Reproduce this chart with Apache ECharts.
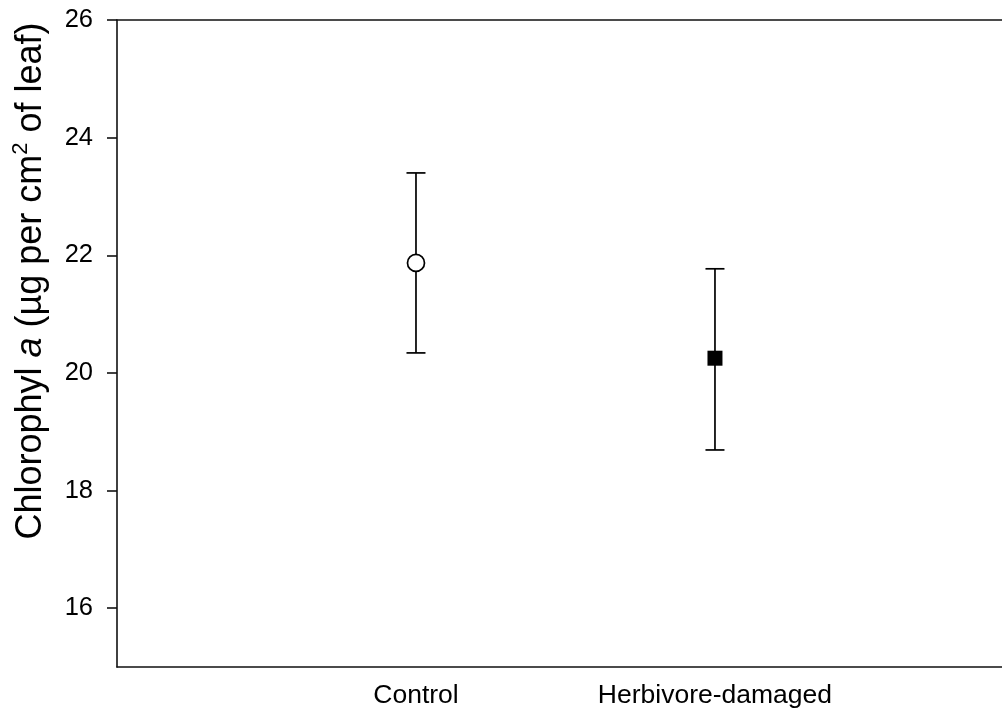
<!DOCTYPE html>
<html>
<head>
<meta charset="utf-8">
<script src="https://cdn.jsdelivr.net/npm/echarts@6/dist/echarts.min.js"></script>
<style>html,body{margin:0;padding:0;background:#fff;}#c{width:1002px;height:714px;}</style>
</head>
<body>
<div id="c"></div>
<script>
const categories = ['Control', 'Herbivore-damaged'];
const xPos = [1, 2];
const means = [21.87, 20.25];
const upper = [23.40, 21.77];
const lower = [20.34, 18.69];
const yTicks = [16, 18, 20, 22, 24, 26];

const FONT = 'Liberation Sans, Arial, sans-serif';
const chart = echarts.init(document.getElementById('c'));
const axisLineStyle = { color: '#111', width: 1.6 };

chart.setOption({
  animation: false,
  backgroundColor: '#fff',
  grid: { left: 117, right: 0, top: 20, bottom: 47 },
  xAxis: [{
    type: 'value', min: 0, max: 2.96, position: 'bottom',
    axisLine: { show: true, onZero: false, lineStyle: axisLineStyle },
    axisTick: { show: false },
    splitLine: { show: false },
    axisLabel: {
      customValues: xPos,
      formatter: v => { const i = xPos.indexOf(v); return i >= 0 ? categories[i] : ''; },
      color: '#000', fontSize: 26.5, fontFamily: FONT, margin: 15
    }
  }, {
    type: 'value', min: 0, max: 2.96, position: 'top',
    axisLine: { show: true, onZero: false, lineStyle: axisLineStyle },
    axisTick: { show: false }, axisLabel: { show: false }, splitLine: { show: false }
  }],
  yAxis: {
    type: 'value', min: 15, max: 26,
    axisLine: { show: true, onZero: false, lineStyle: axisLineStyle },
    axisTick: { show: true, customValues: yTicks, length: 10, lineStyle: axisLineStyle },
    axisLabel: { customValues: yTicks, color: '#000', fontSize: 25.5, fontFamily: FONT, margin: 24 },
    splitLine: { show: false }
  },
  graphic: [{
    type: 'text', x: 31, y: 281, rotation: Math.PI / 2,
    style: {
      text: '{n|Chlorophyl }{i|a}{n| (µg per cm}{s|2}{n| of leaf)}',
      align: 'center', verticalAlign: 'middle', fill: '#000',
      rich: {
        n: { fontSize: 36, fontFamily: FONT, lineHeight: 42, fill: '#000' },
        i: { fontSize: 36, fontFamily: FONT, fontStyle: 'italic', lineHeight: 42, fill: '#000' },
        s: { fontSize: 22, fontFamily: FONT, lineHeight: 25, verticalAlign: 'top', fill: '#000' }
      }
    }
  }],
  series: [{
    type: 'custom',
    data: xPos.map((x, i) => [x, lower[i], upper[i]]),
    renderItem: (params, api) => {
      const x = api.value(0);
      const top = api.coord([x, api.value(2)]);
      const bot = api.coord([x, api.value(1)]);
      const hw = 9.5;
      const st = { stroke: '#000', lineWidth: 1.7 };
      return { type: 'group', children: [
        { type: 'line', shape: { x1: top[0], y1: top[1], x2: bot[0], y2: bot[1] }, style: st },
        { type: 'line', shape: { x1: top[0] - hw, y1: top[1], x2: top[0] + hw, y2: top[1] }, style: st },
        { type: 'line', shape: { x1: bot[0] - hw, y1: bot[1], x2: bot[0] + hw, y2: bot[1] }, style: st }
      ]};
    },
    z: 2
  }, {
    type: 'scatter', symbol: 'circle', symbolSize: 17,
    data: [[xPos[0], means[0]]],
    itemStyle: { color: '#fff', borderColor: '#000', borderWidth: 1.7, opacity: 1 },
    z: 5
  }, {
    type: 'scatter', symbol: 'rect', symbolSize: 15,
    data: [[xPos[1], means[1]]],
    itemStyle: { color: '#000', opacity: 1 },
    z: 5
  }]
});
</script>
</body>
</html>
